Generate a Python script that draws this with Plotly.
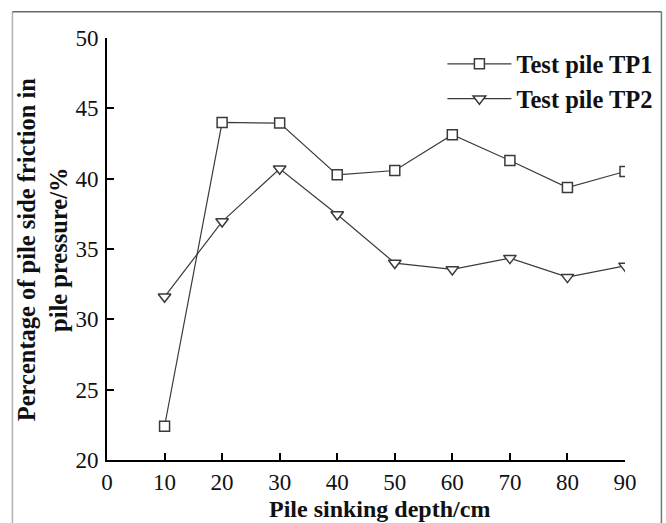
import plotly.graph_objects as go

depth = [10, 20, 30, 40, 50, 60, 70, 80, 90]
tp1 = [22.4, 44.0, 43.95, 40.27, 40.58, 43.12, 41.29, 39.37, 40.51]
tp2 = [31.6, 36.95, 40.7, 37.45, 34.0, 33.55, 34.35, 33.0, 33.8]
x_ticks = [0, 10, 20, 30, 40, 50, 60, 70, 80, 90]
y_ticks = [20, 25, 30, 35, 40, 45, 50]

SERIF = "Liberation Serif, Times New Roman, serif"
LINE_C = "#3a3a3a"

fig = go.Figure()
fig.add_trace(go.Scatter(
    x=depth, y=tp1, mode="lines+markers", name="<b>Test pile TP1</b>",
    line=dict(color=LINE_C, width=1.2),
    marker=dict(symbol="square", size=10, color="white",
                line=dict(color=LINE_C, width=1.5)),
    legendgroup="a",
))
fig.add_trace(go.Scatter(
    x=depth, y=tp2, mode="lines+markers", name="<b>Test pile TP2</b>",
    line=dict(color=LINE_C, width=1.2),
    marker=dict(symbol="triangle-down", size=11, color="white",
                line=dict(color=LINE_C, width=1.5)),
    legendgroup="b",
))

axis_common = dict(
    showgrid=False, zeroline=False, showline=True, linecolor="black",
    linewidth=2, ticks="inside", ticklen=7, tickwidth=1.5, tickcolor="black",
    tickfont=dict(family=SERIF, size=23, color="#111"),
)
fig.update_xaxes(range=[0, 90], tickvals=x_ticks, ticklabelstandoff=0, **axis_common)
fig.update_yaxes(range=[20, 50], tickvals=y_ticks, ticklabelstandoff=2, **axis_common)

fig.add_annotation(
    text="<b>Percentage of pile side friction in<br>pile pressure/%</b>",
    textangle=-90, xref="paper", yref="paper", x=-0.125, y=0.5,
    xanchor="center", yanchor="middle", showarrow=False,
    font=dict(family=SERIF, size=24.5, color="#111"),
)
fig.add_annotation(
    text="<b>Pile sinking depth/cm</b>",
    xref="paper", yref="paper", x=0.5265, y=-0.115,
    xanchor="center", yanchor="middle", showarrow=False,
    font=dict(family=SERIF, size=24, color="#111"),
)

# outer frame
fig.add_shape(type="line", xref="paper", yref="paper", x0=-0.1826, x1=-0.1826,
              y0=-0.3, y1=1.0622, layer="above", line=dict(color="#b0b0b0", width=1.5))
fig.add_shape(type="line", xref="paper", yref="paper", x0=-0.1826, x1=1.0703,
              y0=1.0622, y1=1.0622, layer="above", line=dict(color="#666666", width=1.5))
fig.add_shape(type="line", xref="paper", yref="paper", x0=1.0703, x1=1.0703,
              y0=-0.3, y1=1.0622, layer="above", line=dict(color="#777777", width=1.5))

fig.update_layout(
    width=666, height=523,
    margin=dict(l=107, r=41, t=38, b=63, autoexpand=False),
    plot_bgcolor="white", paper_bgcolor="white",
    showlegend=True,
    legend=dict(x=0.6475, y=0.992, xanchor="left", yanchor="top",
                bgcolor="rgba(0,0,0,0)", tracegroupgap=0, itemwidth=64,
                font=dict(family=SERIF, size=24.5, color="#111")),
)

fig.write_html(
    "out.html",
    config={"displayModeBar": False},
    post_script="document.body.style.margin='0';document.body.style.overflow='hidden';",
)
